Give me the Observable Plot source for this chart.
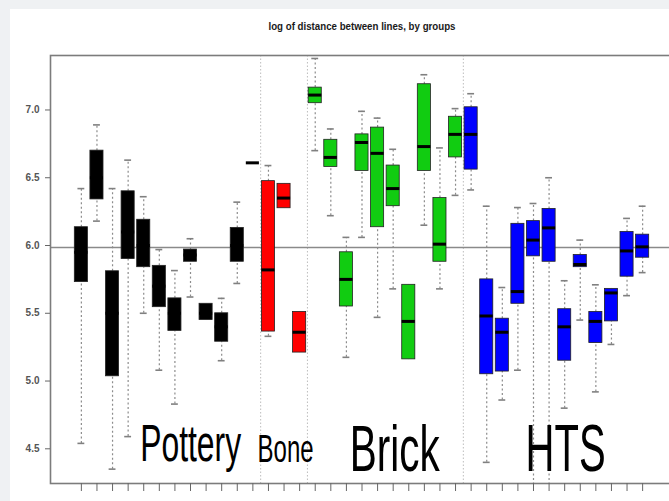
<!DOCTYPE html>
<html><head><meta charset="utf-8">
<script src="https://cdn.jsdelivr.net/npm/d3@7"></script>
<script src="https://cdn.jsdelivr.net/npm/@observablehq/plot@0.6"></script>
<style>
html,body{margin:0;padding:0;width:669px;height:501px;overflow:hidden;background:#eff1f3;}
#panel{position:absolute;left:10px;top:9px;right:0;bottom:0;background:#fff;}
#chart{position:absolute;left:0;top:0;width:700px;height:501px;}
#chart svg{max-width:none !important;width:700px !important;height:501px !important;}
</style></head><body><div id="panel"></div><div id="chart"></div>
<script>
const title = "log of distance between lines, by groups";
const groupNames = ["Pottery", "Bone", "Brick", "HTS"];
const groupColors = ["#000000", "#ff0000", "#11cc11", "#0000ff"];
const boxGroup = [0,0,0,0,0,0,0,0,0,0,0,0, 1,1,1, 2,2,2,2,2,2,2,2,2,2, 3,3,3,3,3,3,3,3,3,3,3,3];
const whiskerLow = [4.54,6.18,4.35,4.59,5.50,5.08,4.83,5.62,5.45,5.15,5.72,6.61, 5.33,6.275,5.21, 6.70,6.22,5.175,6.06,5.47,5.68,5.16,6.15,5.68,6.37, 6.41,4.40,4.86,5.08,4.20,4.20,4.80,5.45,4.92,5.27,5.63,5.80];
const boxLow     = [5.73,6.34,5.035,5.90,5.84,5.545,5.37,5.88,5.45,5.29,5.88,6.61, 5.365,6.275,5.21, 7.05,6.58,5.55,6.55,6.135,6.29,5.16,6.55,5.88,6.65, 6.56,5.05,5.07,5.57,5.92,5.88,5.15,5.84,5.28,5.44,5.77,5.91];
const median     = [5.95,6.50,5.50,6.10,6.00,5.70,5.50,5.93,5.50,5.40,6.00,6.61, 5.82,6.35,5.36, 7.11,6.65,5.75,6.76,6.68,6.42,5.44,6.73,6.01,6.82, 6.82,5.48,5.36,5.66,6.04,6.13,5.40,5.86,5.44,5.65,5.96,5.99];
const boxHigh    = [6.135,6.70,5.81,6.40,6.19,5.85,5.61,5.97,5.57,5.50,6.13,6.61, 6.475,6.455,5.51, 7.165,6.78,5.95,6.82,6.87,6.59,5.71,7.19,6.35,6.95, 7.02,5.75,5.46,6.16,6.18,6.27,5.53,5.93,5.51,5.68,6.10,6.08];
const whiskerHigh= [6.42,6.89,6.42,6.63,6.36,5.97,5.815,6.05,5.57,5.61,6.32,6.61, 6.59,6.455,5.51, 7.38,6.86,6.06,6.99,6.94,6.71,5.71,7.26,6.72,7.01, 7.12,6.29,5.69,6.28,6.31,6.50,5.74,6.04,5.71,5.68,6.20,6.29];
const separators = [11.5, 14.5, 24.5];
const referenceLine = 5.985;
const yTicks = [4.5, 5.0, 5.5, 6.0, 6.5, 7.0];

const boxes = boxGroup.map((g, i) => ({i, g, lo: whiskerLow[i], q1: boxLow[i], med: median[i], q3: boxHigh[i], hi: whiskerHigh[i]}));
const narrow = "'Liberation Sans Narrow', 'Arial Narrow', 'Liberation Sans', sans-serif";
const half = 0.42, cap = 0.22;

// label placement (layout, not data)
const labelLayout = [
  {x: 7.01, y: 4.413, size: 51, len: 101},
  {x: 13.1, y: 4.401, size: 38.5, len: 56},
  {x: 20.1, y: 4.339, size: 64, len: 90},
  {x: 31.06, y: 4.334, size: 66, len: 80}
];

const plot = Plot.plot({
  width: 700, height: 501,
  marginLeft: 50, marginRight: 27, marginTop: 55, marginBottom: 18,
  x: {domain: [-1.98, 37.98]},
  y: {domain: [4.244, 7.402]},
  style: {background: "transparent", fontFamily: narrow, overflow: "visible", maxWidth: "none"},
  marks: [
    Plot.ruleX(separators, {x: d => d, stroke: "#bdbdbd", strokeDasharray: "1.5,2", strokeWidth: 1}),
    Plot.ruleY([referenceLine], {stroke: "#8a8a8a", strokeWidth: 1.6}),
    Plot.ruleX(boxes, {x: "i", y1: "lo", y2: "q1", stroke: "#8c8c8c", strokeWidth: 1.2, strokeDasharray: "2,2.5", clip: true}),
    Plot.ruleX(boxes, {x: "i", y1: "q3", y2: "hi", stroke: "#8c8c8c", strokeWidth: 1.2, strokeDasharray: "2,2.5", clip: true}),
    Plot.ruleY(boxes.filter(d => d.lo < d.q1), {y: "lo", x1: d => d.i - cap, x2: d => d.i + cap, stroke: "#808080", strokeWidth: 1.6, clip: true}),
    Plot.ruleY(boxes.filter(d => d.hi > d.q3), {y: "hi", x1: d => d.i - cap, x2: d => d.i + cap, stroke: "#808080", strokeWidth: 1.6, clip: true}),
    Plot.rect(boxes, {x1: d => d.i - half, x2: d => d.i + half, y1: "q1", y2: "q3", fill: d => groupColors[d.g], stroke: "#222", strokeWidth: 0.8}),
    Plot.ruleY(boxes, {y: "med", x1: d => d.i - half, x2: d => d.i + half, stroke: "#000", strokeWidth: 3}),
    Plot.frame({stroke: "#7c7c7c", strokeWidth: 1.6}),
    Plot.axisY({ticks: yTicks, tickFormat: d3.format(".1f"), tickSize: 5, tickPadding: 6, fontSize: 10, fontWeight: "bold", fill: "#555", stroke: "#666", label: null}),
    Plot.axisX({ticks: d3.range(boxGroup.length), tickFormat: () => "", tickSize: 8, stroke: "#666", label: null}),
    ...groupNames.map((name, k) => Plot.text([name], {x: labelLayout[k].x, y: labelLayout[k].y, text: d => d, fontSize: labelLayout[k].size, lineAnchor: "bottom", textAnchor: "middle", fill: "#000", fontFamily: narrow})),
    Plot.text([title], {frameAnchor: "top", dy: -29, text: d => d, fontSize: 10.5, fontWeight: "bold", fill: "#1a1a1a", lineAnchor: "middle", fontFamily: narrow})
  ]
});
document.getElementById("chart").appendChild(plot);

// fit each big label to its measured width by choosing the font size for the width
// and stretching vertically back to the observed letter height
const fit = {};
groupNames.forEach((n, k) => fit[n] = labelLayout[k]);
d3.select(plot).selectAll("text").each(function() {
  const t = this.textContent;
  if (t === title) {
    this.setAttribute("textLength", 187);
    this.setAttribute("lengthAdjust", "spacingAndGlyphs");
    return;
  }
  const f = fit[t];
  if (!f) return;
  const w = this.getComputedTextLength();
  if (!w) return;
  const s2 = f.size * f.len / w;
  const sy = f.size / s2;
  this.setAttribute("font-size", s2);
  this.style.fontSize = s2 + "px";
  let tr = this.getAttribute("transform");
  if (!tr) {
    const x = +this.getAttribute("x") || 0, y = +this.getAttribute("y") || 0;
    this.removeAttribute("x"); this.removeAttribute("y");
    tr = `translate(${x},${y})`;
  }
  this.setAttribute("transform", `${tr} scale(1,${sy})`);
});
</script></body></html>
